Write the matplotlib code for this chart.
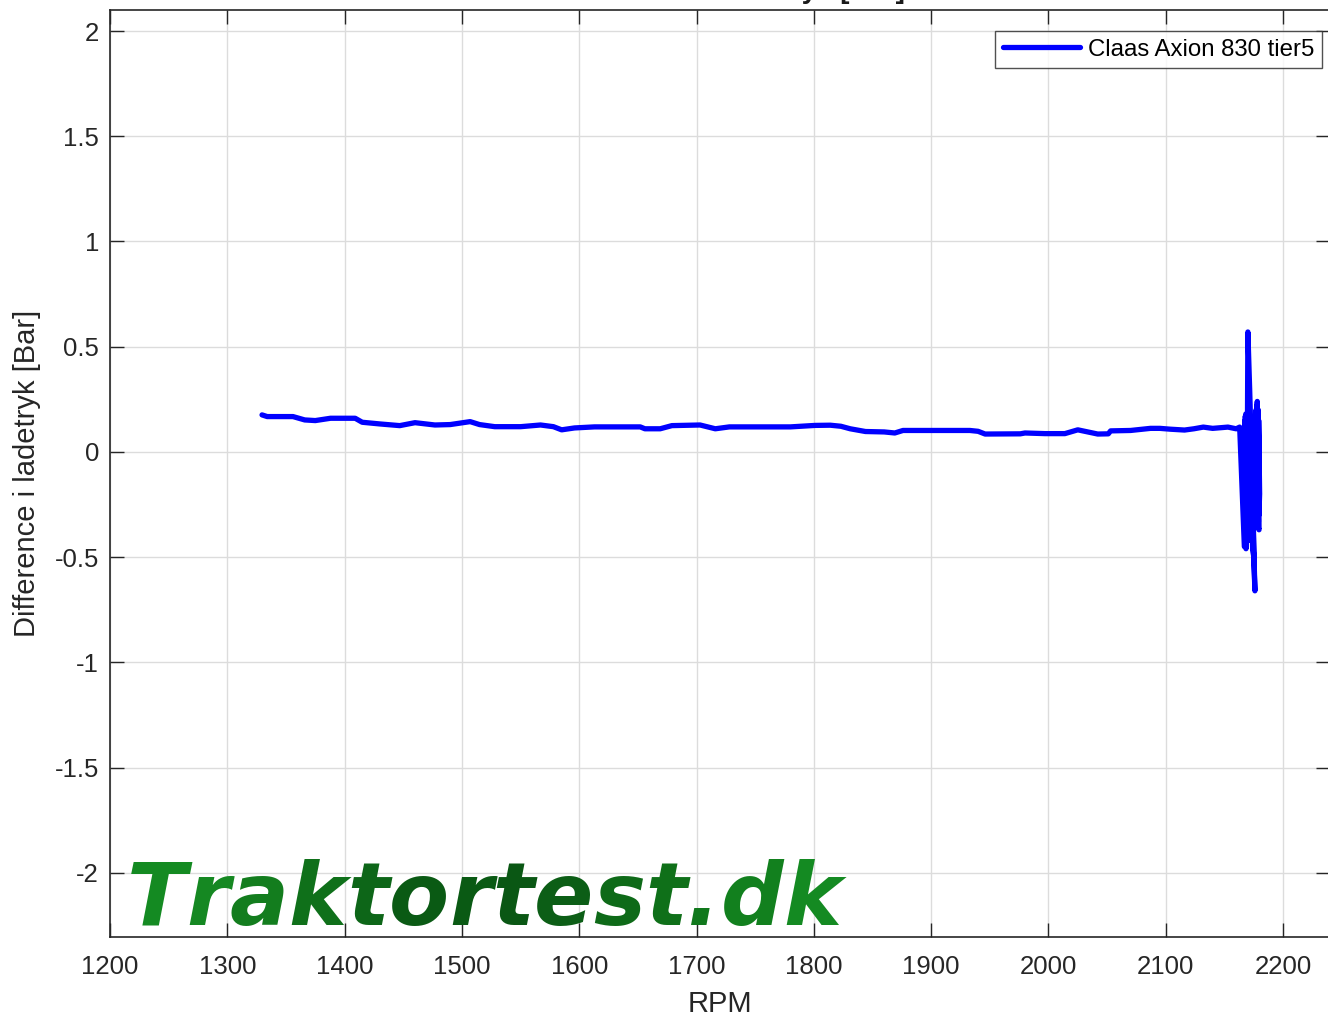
import matplotlib
matplotlib.use("Agg")
import matplotlib.pyplot as plt
import numpy as np

# ---- data ----
rpm = [1329.6, 1334, 1356, 1366, 1375, 1388, 1409, 1415, 1430, 1447, 1460, 1477, 1490, 1507,
       1515, 1528, 1550, 1567, 1578, 1585, 1596, 1613, 1652, 1656, 1669, 1679, 1703, 1716,
       1728, 1780, 1801, 1814, 1823, 1831, 1844, 1860, 1869, 1876, 1933, 1940, 1946, 1976,
       1980, 1997, 2014, 2025, 2042, 2051, 2053, 2070, 2087, 2095, 2104, 2116, 2124, 2132,
       2140, 2153, 2160, 2163,
       2167, 2167.6, 2168.0, 2167.4, 2168.4, 2167.8, 2168.8, 2168.2, 2169.2, 2169.6, 2170,
       2171.5, 2173, 2174.5, 2176, 2175, 2174, 2172.5, 2171, 2173.2, 2172, 2175, 2174,
       2177, 2176.5, 2177.5, 2176.8, 2178, 2178.5, 2178, 2179, 2178.2, 2179.5, 2178.8,
       2179, 2179.8, 2179.2, 2180, 2179.4]
diff = [0.176, 0.168, 0.168, 0.152, 0.149, 0.160, 0.160, 0.141, 0.133, 0.125, 0.139, 0.128,
        0.130, 0.144, 0.130, 0.120, 0.120, 0.128, 0.120, 0.105, 0.114, 0.119, 0.119, 0.110,
        0.110, 0.125, 0.128, 0.110, 0.119, 0.119, 0.126, 0.127, 0.122, 0.110, 0.097, 0.095,
        0.090, 0.102, 0.102, 0.098, 0.085, 0.086, 0.090, 0.087, 0.087, 0.105, 0.085, 0.086,
        0.100, 0.102, 0.112, 0.112, 0.108, 0.104, 0.110, 0.118, 0.112, 0.118, 0.110, 0.118,
        -0.45, 0.15, -0.40, 0.12, -0.46, 0.17, -0.38, 0.18, -0.30, 0.10, 0.57,
        0.30, 0.00, -0.35, -0.66, -0.50, -0.45, -0.10, -0.42, 0.13, -0.25, -0.50, 0.05,
        0.20, -0.10, 0.22, -0.05, 0.24, -0.20, 0.10, -0.33, -0.35, -0.37, 0.20,
        -0.28, -0.20, 0.15, -0.20, -0.30]

series_label = "Claas Axion 830 tier5"
title_text = "Difference i ladetryk [Bar]"
xlabel_text = "RPM"
ylabel_text = "Difference i ladetryk [Bar]"
xticks = [1200, 1300, 1400, 1500, 1600, 1700, 1800, 1900, 2000, 2100, 2200]
yticks = [-2, -1.5, -1, -0.5, 0, 0.5, 1, 1.5, 2]
ytick_labels = ["-2", "-1.5", "-1", "-0.5", "0", "0.5", "1", "1.5", "2"]
watermark = "Traktortest.dk"
wm_colors = ["#148a22", "#158822", "#137d1e", "#0f701a", "#0d6618", "#0a5a14", "#0a5a14",
             "#0a5714", "#0c5e16", "#0e6a18", "#0f7019", "#10781c", "#12801e", "#148a22"]

plt.rcParams['font.family'] = ['Liberation Sans', 'DejaVu Sans']

W, H = 1328, 1018
fig = plt.figure(figsize=(W / 100, H / 100), dpi=100)
left, right, top, bottom = 110, 1330, 10, 937
ax = fig.add_axes([left / W, 1 - bottom / H, (right - left) / W, (bottom - top) / H])

ax.plot(rpm, diff, color=(0, 0, 1), lw=3.8, solid_joinstyle='round', solid_capstyle='round',
        label=series_label, zorder=3)

ax.set_xlim(1200, 2240)
ax.set_ylim(-2.305, 2.1)
ax.set_xticks(xticks)
ax.set_xticklabels([str(t) for t in xticks])
ax.set_yticks(yticks)
ax.set_yticklabels(ytick_labels)
ax.tick_params(direction='in', length=10, width=1, labelsize=18.5, top=True, right=True,
               colors='#262626')
ax.tick_params(axis='x', pad=13)
ax.tick_params(axis='y', pad=8)
for lab in ax.get_xticklabels() + ax.get_yticklabels():
    lab.set_color('#262626')
ax.grid(True, color='#dcdcdc', lw=1.0, zorder=0)
for s in ax.spines.values():
    s.set_color('#262626')
    s.set_linewidth(1.2)

ax.set_xlabel(xlabel_text, fontsize=21, color='#262626', labelpad=8)
ax.set_ylabel(ylabel_text, fontsize=21, color='#262626', labelpad=10)

leg = ax.legend(loc='upper right', bbox_to_anchor=((1322 - left) / (right - left), 1 - (31 - top) / (bottom - top)),
                fontsize=17.3, frameon=True, fancybox=False, handlelength=3.2,
                borderaxespad=0, borderpad=0.32, handletextpad=0.35)
leg.get_frame().set_edgecolor('#262626')
leg.get_frame().set_linewidth(1.0)
for ln in leg.get_lines():
    ln.set_linewidth(3.8)

# title (cut off at top of the figure, as in the reference)
fig.text(905 / W, 1 + 2 / H, title_text, ha='right', va='baseline', fontsize=20,
         fontweight='bold', color='#1a1a1a')

# watermark, multicolored bold italic text
wm_font = dict(fontsize=63, fontweight='bold', fontstyle='italic', family='DejaVu Sans', zorder=4)
prev = ax.text(1214.5, -2.247, watermark[0], color=wm_colors[0], va='baseline', ha='left', **wm_font)
for ch, col in zip(watermark[1:], wm_colors[1:]):
    prev = ax.annotate(ch, xy=(1, 0), xycoords=prev, xytext=(0, 0), textcoords='offset points',
                       color=col, va='bottom', ha='left', **wm_font)

fig.savefig("out.png", dpi=100)
